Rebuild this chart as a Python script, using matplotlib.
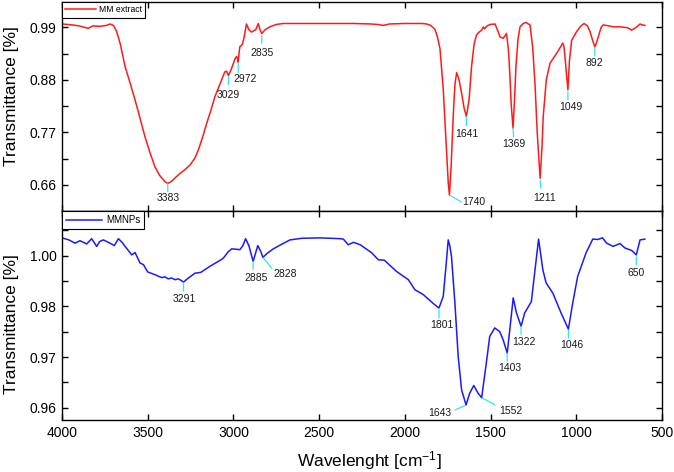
import numpy as np
import matplotlib.pyplot as plt
from matplotlib.ticker import FixedLocator

plt.rcParams['font.family'] = ['Liberation Sans', 'DejaVu Sans']
plt.rcParams['mathtext.fontset'] = 'custom'
plt.rcParams['mathtext.rm'] = 'Liberation Sans'
plt.rcParams['mathtext.default'] = 'regular'

# MM extract spectrum --------------------------------------------------------
red_wn = [4000, 3940, 3900, 3870, 3847, 3820, 3780, 3740, 3720, 3700, 3681, 3660,
          3632, 3600, 3574, 3545, 3516, 3487, 3458, 3430, 3399, 3383, 3360, 3340,
          3312, 3280, 3253, 3225, 3205, 3180, 3156, 3130, 3108, 3080, 3050, 3040,
          3029, 3015, 3000, 2990, 2981, 2975, 2972, 2966, 2962, 2950, 2940, 2924,
          2910, 2895, 2870, 2855, 2845, 2835, 2815, 2787, 2750, 2709, 2600, 2500,
          2400, 2300, 2200, 2160, 2126, 2090, 2000, 1900, 1873, 1850, 1825, 1810,
          1795, 1776, 1757, 1747, 1740, 1730, 1718, 1708, 1698, 1685, 1669, 1655,
          1641, 1625, 1611, 1596, 1582, 1567, 1552, 1542, 1535, 1520, 1503, 1474,
          1455, 1445, 1426, 1407, 1395, 1387, 1380, 1369, 1360, 1352, 1340, 1328,
          1310, 1293, 1270, 1255, 1241, 1228, 1211, 1200, 1193, 1175, 1153, 1114,
          1090, 1079, 1072, 1066, 1058, 1049, 1040, 1027, 998, 975, 955, 935,
          920, 905, 892, 882, 872, 855, 843, 810, 785, 740, 700, 677,
          650, 628, 615, 600]
red_t = [0.997, 0.995, 0.993, 0.990, 0.988, 0.993, 0.992, 0.994, 0.997, 0.994, 0.981, 0.955,
         0.908, 0.870, 0.838, 0.800, 0.761, 0.728, 0.698, 0.680, 0.667, 0.663, 0.668, 0.675,
         0.684, 0.693, 0.702, 0.716, 0.733, 0.760, 0.789, 0.818, 0.845, 0.870, 0.897, 0.898,
         0.889, 0.900, 0.915, 0.925, 0.929, 0.922, 0.917, 0.940, 0.950, 0.953, 0.965, 0.997,
         0.985, 0.980, 0.985, 0.998, 0.985, 0.977, 0.985, 0.991, 0.996, 0.998, 0.998, 0.998,
         0.998, 0.998, 0.997, 0.996, 0.994, 0.997, 0.998, 0.998, 0.997, 0.994, 0.986, 0.970,
         0.945, 0.860, 0.733, 0.665, 0.639, 0.700, 0.803, 0.870, 0.895, 0.882, 0.852, 0.822,
         0.803, 0.840, 0.908, 0.955, 0.974, 0.980, 0.984, 0.991, 0.987, 0.993, 0.996, 0.997,
         0.980, 0.970, 0.967, 0.977, 0.940, 0.887, 0.830, 0.779, 0.840, 0.908, 0.965, 0.991,
         0.998, 1.000, 0.995, 0.950, 0.873, 0.770, 0.674, 0.740, 0.803, 0.880, 0.915, 0.936,
         0.950, 0.957, 0.950, 0.928, 0.895, 0.859, 0.920, 0.963, 0.981, 0.992, 0.998, 0.993,
         0.981, 0.963, 0.949, 0.958, 0.970, 0.990, 0.995, 0.993, 0.991, 0.991, 0.989, 0.984,
         0.990, 0.997, 0.995, 0.994]

# MMNPs spectrum -------------------------------------------------------------
blue_wn = [4000, 3960, 3924, 3895, 3856, 3827, 3798, 3780, 3759, 3740, 3720, 3695,
           3671, 3650, 3632, 3593, 3574, 3545, 3525, 3500, 3457, 3418, 3400, 3380,
           3360, 3341, 3320, 3291, 3263, 3224, 3190, 3137, 3088, 3059, 3030, 3010,
           2962, 2945, 2929, 2910, 2885, 2858, 2840, 2828, 2800, 2767, 2720, 2670,
           2600, 2495, 2378, 2359, 2330, 2300, 2260, 2193, 2155, 2120, 2048, 1980,
           1941, 1892, 1834, 1801, 1776, 1760, 1747, 1738, 1728, 1708, 1689, 1669,
           1643, 1622, 1598, 1573, 1552, 1525, 1505, 1476, 1447, 1427, 1403, 1388,
           1368, 1349, 1322, 1301, 1262, 1243, 1220, 1195, 1176, 1137, 1089, 1046,
           1021, 992, 943, 904, 875, 847, 823, 785, 745, 716, 677, 650,
           628, 600]
blue_t = [1.0019, 1.0014, 1.0006, 1.0012, 1.0004, 1.0017, 0.9998, 1.0010, 1.0014, 1.0010, 1.0006, 1.0000,
          1.0017, 1.0008, 0.9998, 0.9977, 0.9983, 0.9957, 0.9953, 0.9935, 0.9928, 0.9921, 0.9923, 0.9918,
          0.9920, 0.9916, 0.9918, 0.9910, 0.9920, 0.9932, 0.9934, 0.9949, 0.9961, 0.9969, 0.9985, 0.9992,
          0.9990, 1.0000, 1.0017, 1.0000, 0.9961, 1.0000, 0.9985, 0.9971, 0.9982, 0.9992, 1.0003, 1.0014,
          1.0018, 1.0019, 1.0017, 1.0016, 1.0002, 1.0008, 1.0002, 0.9982, 0.9965, 0.9964, 0.9936, 0.9916,
          0.9891, 0.9879, 0.9857, 0.9846, 0.9875, 0.9950, 1.0014, 1.0000, 0.9973, 0.9858, 0.9727, 0.9644,
          0.9607, 0.9636, 0.9655, 0.9636, 0.9625, 0.9710, 0.9776, 0.9797, 0.9788, 0.9768, 0.9735, 0.9792,
          0.9871, 0.9834, 0.9801, 0.9834, 0.9862, 0.9932, 1.0016, 0.9940, 0.9908, 0.9883, 0.9834, 0.9794,
          0.9858, 0.9924, 0.9982, 1.0016, 1.0015, 1.0019, 1.0006, 0.9998, 1.0005, 0.9994, 0.9988, 0.9977,
          1.0014, 1.0016]

# peak labels: wavenumber, gap, line end dx/dy, text dx/dy (pixels, down = +), ha
red_peaks = [(3383, 0, 0, 8, 0, 14, 'center'),
             (3029, 1, 0, 9, 0, 19, 'center'),
             (2972, 1, 0, 10, 7, 17, 'center'),
             (2835, 2, 0, 10, 0, 19, 'center'),
             (1740, 1, 12, 7, 13, 7, 'left'),
             (1641, 0, 0, 9, 0, 17, 'center'),
             (1369, 0, 0.6, 9, 1, 16, 'center'),
             (1211, 2, 0.7, 10, 4, 20, 'center'),
             (1049, 2, 0, 10, 3, 17, 'center'),
             (892, 1, 0, 9, 0, 16, 'center')]
blue_peaks = [(3291, 1, 0, 9, 1, 17, 'center'),
              (2885, 0, 0, 8, 3, 17, 'center'),
              (2828, 1, 9, 11, 22, 17, 'center'),
              (1801, 2, 0, 10, 3, 17, 'center'),
              (1643, 1, -11, 5, -15, 8, 'right'),
              (1552, 1, 13, 7, 18, 13, 'left'),
              (1403, 0, 0, 8, 3, 15, 'center'),
              (1322, 0, 0, 8, 3, 16, 'center'),
              (1046, 1, 0, 9, 3, 16, 'center'),
              (650, 2, 0, 10, 0, 18, 'center')]

top_ticks = [0.66, 0.77, 0.88, 0.99]
bot_ticks = [0.96, 0.9725, 0.985, 0.9975]
bot_labels = ['0.96', '0.97', '0.98', '1.00']


def mark(ax, wn, t, peaks, fs):
    wn = np.array(wn)[::-1]
    t = np.array(t)[::-1]
    for w, s, lx, ly, tx, ty, ha in peaks:
        v = np.interp(w, wn, t)
        ax.annotate('', xy=(w, v), xytext=(lx, -ly), textcoords='offset pixels',
                    arrowprops=dict(arrowstyle='-', color='#2ee6f0', lw=0.9,
                                    shrinkA=0, shrinkB=s * 0.72, patchA=None))
        ax.annotate(str(w), xy=(w, v), xytext=(tx, -ty), textcoords='offset pixels',
                    ha=ha, va='center', fontsize=fs, color='#1a1a1a')


fig = plt.figure(figsize=(6.74, 4.72), dpi=100)
ax1 = fig.add_axes([0.092, 0.5536, 0.8902, 0.4428])
ax2 = fig.add_axes([0.092, 0.1102, 0.8902, 0.4434], sharex=ax1)

ax1.plot(red_wn, red_t, color='#ff1a1a', lw=1.1, label='MM extract')
ax2.plot(blue_wn, blue_t, color='#1a1aff', lw=1.1, label='MMNPs')

mark(ax1, red_wn, red_t, red_peaks, 7.5)
mark(ax2, blue_wn, blue_t, blue_peaks, 7.5)

ax1.set_xlim(4000, 500)
ax1.set_xticks(np.arange(500, 4001, 500))
ax1.set_ylim(0.6062, 1.0436)
ax1.yaxis.set_major_locator(FixedLocator(top_ticks))
ax1.yaxis.set_minor_locator(FixedLocator([0.715, 0.825, 0.935]))
ax1.set_yticklabels(['%.2f' % v for v in top_ticks])

ax2.set_ylim(0.9570, 1.0086)
ax2.yaxis.set_major_locator(FixedLocator(bot_ticks))
ax2.yaxis.set_minor_locator(FixedLocator([0.96625, 0.97875, 0.99125, 1.00375]))
ax2.set_yticklabels(bot_labels)

for ax in (ax1, ax2):
    ax.tick_params(which='both', direction='in', top=True, right=True,
                   length=4.3, width=1.0, labelsize=10, pad=4)
    for sp in ax.spines.values():
        sp.set_linewidth(1.0)
    ax.set_ylabel('Transmittance [%]', fontsize=12.5)
ax1.tick_params(labelbottom=False)

leg1 = ax1.legend(loc='upper left', borderaxespad=0, fancybox=False,
                  edgecolor='black', framealpha=1, fontsize=6.2,
                  handlelength=3.5, handletextpad=0.4, borderpad=0.4)
leg2 = ax2.legend(loc='upper left', borderaxespad=0, fancybox=False,
                  edgecolor='black', framealpha=1, fontsize=7,
                  handlelength=3.7, handletextpad=0.35, borderpad=0.45)
for leg in (leg1, leg2):
    leg.get_frame().set_linewidth(0.8)

ax1.yaxis.set_label_coords(-0.071, 0.55)
ax2.yaxis.set_label_coords(-0.071, 0.46)

ax2.set_xlabel('Wavelenght [cm$^{-1}$]', fontsize=12.5)
ax2.xaxis.label.set_va('baseline')
ax2.xaxis.set_label_coords(0.512, -0.223)

plt.savefig('out.png', dpi=100)
